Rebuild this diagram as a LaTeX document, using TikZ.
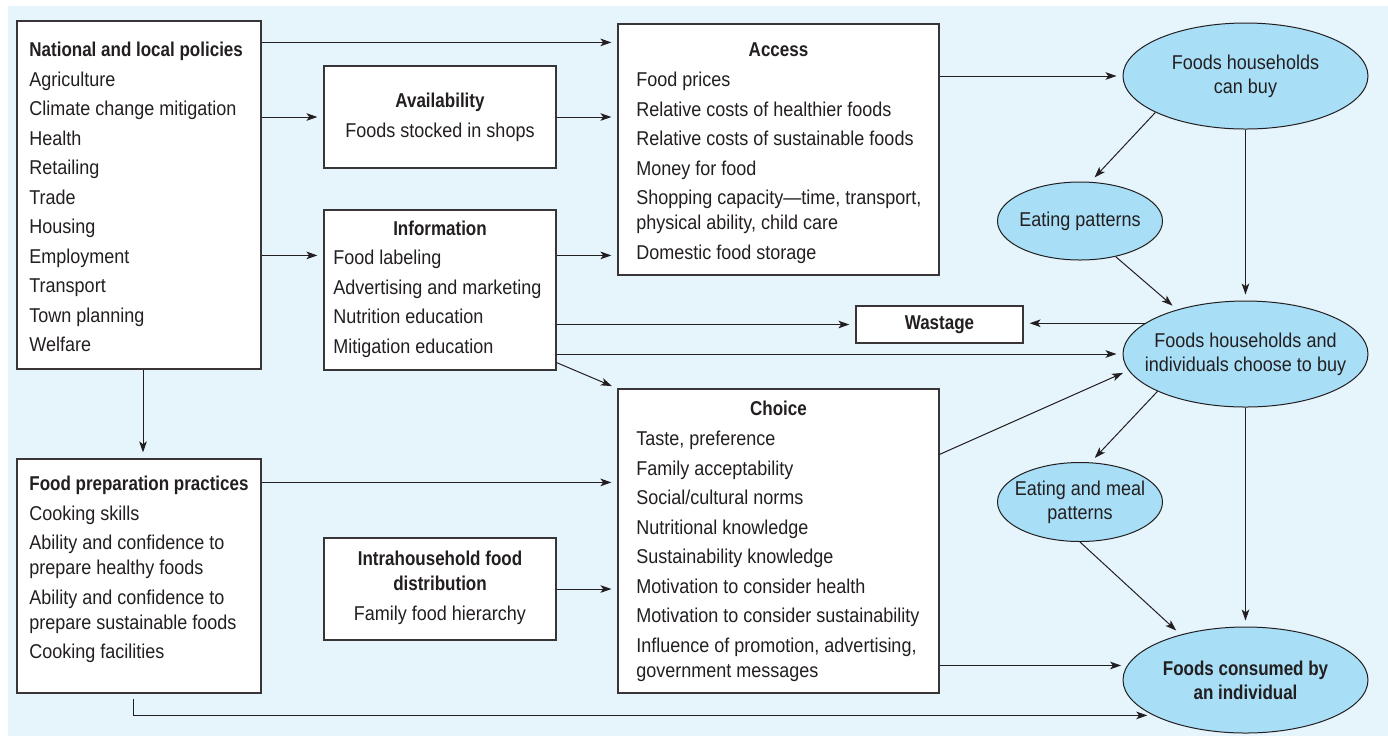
\documentclass[tikz,border=0pt]{standalone}
\usepackage{fontspec}
\setmainfont{Liberation Sans}[UprightFeatures={FakeStretch=0.9},
  BoldFeatures={FakeStretch=0.85}]
\usetikzlibrary{arrows.meta, shapes.geometric, calc}
\definecolor{bgblue}{HTML}{E6F4FC}
\definecolor{ovalblue}{HTML}{A8DEF6}
\definecolor{ink}{HTML}{231F20}
\newcommand{\gap}{\\[2.25pt]}
\tikzset{
  box/.style={rectangle, draw=ink!90, line width=0.6pt, fill=white, inner sep=0pt},
  oval/.style={ellipse, draw=ink, line width=0.5pt, fill=ovalblue, inner xsep=-8pt,
    inner ysep=0pt, align=center, text=ink, font=\fontsize{10}{12}\selectfont},
  list/.style={anchor=north west, inner sep=0pt, align=left, text=ink,
    font=\fontsize{10}{12.5}\selectfont},
  head/.style={anchor=north, inner sep=0pt, align=center, text=ink,
    font=\fontsize{10}{12.5}\selectfont},
  arr/.style={draw=ink, line width=0.5pt,
    -{Stealth[length=5.5pt,width=3.8pt,inset=1.4pt]}, shorten >=3pt},
}

\begin{document}
\begin{tikzpicture}[x=0.5pt, y=-0.5pt]
\useasboundingbox (0,0) rectangle (1388,736);
\fill[bgblue] (8,6) rectangle (1388,736);

\node[box, minimum width=122pt, minimum height=174pt] (policies) at (139,195) {};
\node[box, minimum width=122pt, minimum height=117pt] (foodprep) at (139,576) {};
\node[box, minimum width=116pt, minimum height=51pt] (avail) at (440,117) {};
\node[box, minimum width=116pt, minimum height=80pt] (info) at (440,290) {};
\node[box, minimum width=116pt, minimum height=51pt] (intra) at (440,589) {};
\node[box, minimum width=160.5pt, minimum height=125.5pt] (access) at (778.5,149.5) {};
\node[box, minimum width=160.5pt, minimum height=152pt] (choice) at (778.5,541) {};
\node[box, minimum width=83.5pt, minimum height=18.5pt, text=ink,
  font=\fontsize{10}{12}\selectfont\bfseries] (wastage) at (939.5,324.5) {Wastage};

\node[oval, minimum width=122.5pt, minimum height=53pt] (canbuy) at (1245.5,76)
  {Foods households\\can buy};
\node[oval, minimum width=82.5pt, minimum height=39pt] (eatpat) at (1080,221)
  {Eating patterns};
\node[oval, minimum width=122.5pt, minimum height=53pt] (choose) at (1245.5,354)
  {Foods households and\\individuals choose to buy};
\node[oval, minimum width=82.5pt, minimum height=39.5pt] (eatmeal) at (1080,502)
  {Eating and meal\\patterns};
\node[oval, minimum width=122.5pt, minimum height=53pt, font=\fontsize{10}{12}\selectfont\bfseries]
  (consumed) at (1245.5,680) {Foods consumed by\\an individual};

\node[list] (policiestext) at (29,41.8) {\textbf{National and local policies}\gap
  Agriculture\gap Climate change mitigation\gap Health\gap Retailing\gap Trade\gap
  Housing\gap Employment\gap Transport\gap Town planning\gap Welfare};
\node[list] (foodpreptext) at (29,475.8) {\textbf{Food preparation practices}\gap
  Cooking skills\gap Ability and confidence to\\prepare healthy foods\gap
  Ability and confidence to\\prepare sustainable foods\gap Cooking facilities};
\node[head] (availtext) at (440,92.8) {\textbf{Availability}\gap Foods stocked in shops};
\node[head] (infohead) at (440,220.8) {\textbf{Information}};
\node[list] (infotext) at (333,249.8) {Food labeling\gap Advertising and marketing\gap
  Nutrition education\gap Mitigation education};
\node[head] (intratext) at (440,550.8) {\textbf{Intrahousehold food}\\\textbf{distribution}\gap
  Family food hierarchy};
\node[head] (accesshead) at (778.5,42.8) {\textbf{Access}};
\node[list] (accesstext) at (636,71.8) {Food prices\gap Relative costs of healthier foods\gap
  Relative costs of sustainable foods\gap Money for food\gap
  Shopping capacity—time, transport,\\physical ability, child care\gap Domestic food storage};
\node[head] (choicehead) at (778.5,400.8) {\textbf{Choice}};
\node[list] (choicetext) at (636,430.8) {Taste, preference\gap Family acceptability\gap
  Social/cultural norms\gap Nutritional knowledge\gap Sustainability knowledge\gap
  Motivation to consider health\gap Motivation to consider sustainability\gap
  Influence of promotion, advertising,\\government messages};

\coordinate (p1) at ([yshift=-11pt]policies.north east);
\coordinate (i1) at ([yshift=-23pt]info.north west);
\coordinate (f1) at ([yshift=-12pt]foodprep.north east);
\draw[arr] (p1) -- (p1 -| access.west);
\draw[arr] (policies.east |- avail.west) -- (avail.west);
\draw[arr] (avail.east) -- (avail.east -| access.west);
\draw[arr] (policies.east |- i1) -- (i1);
\draw[arr] (i1 -| info.east) -- (i1 -| access.west);
\draw[arr] (info.east |- wastage.west) -- (wastage.west);
\draw[arr] (info.east |- choose.west) -- (choose.west);
\draw[arr] ([yshift=4pt]info.south east) -- (choice.north west);
\draw[arr] ([xshift=2pt]policies.south) -- ([xshift=2pt]foodprep.north);
\draw[arr] (f1) -- (f1 -| choice.west);
\draw[arr] (intra.east) -- (intra.east -| choice.west);
\draw[arr] ([xshift=-3pt,yshift=-2.5pt]foodprep.south) |- (consumed.201);
\draw[arr] (choice.east |- consumed.173) -- (consumed.173);
\draw[arr] ([yshift=-33pt]choice.north east) -- (choose.188);
\draw[arr] (access.east |- canbuy.west) -- (canbuy.west);
\draw[arr] (canbuy.202) -- (eatpat.75);
\draw[arr] (canbuy.south) -- (choose.north);
\draw[arr] (eatpat.315) -- (choose.147);
\draw[arr] (choose.163) -- (choose.163 -| wastage.east);
\draw[arr] (choose.203) -- (eatmeal.75);
\draw[arr] (choose.south) -- (consumed.north);
\draw[arr] (eatmeal.south) -- (consumed.145);
\end{tikzpicture}
\end{document}
